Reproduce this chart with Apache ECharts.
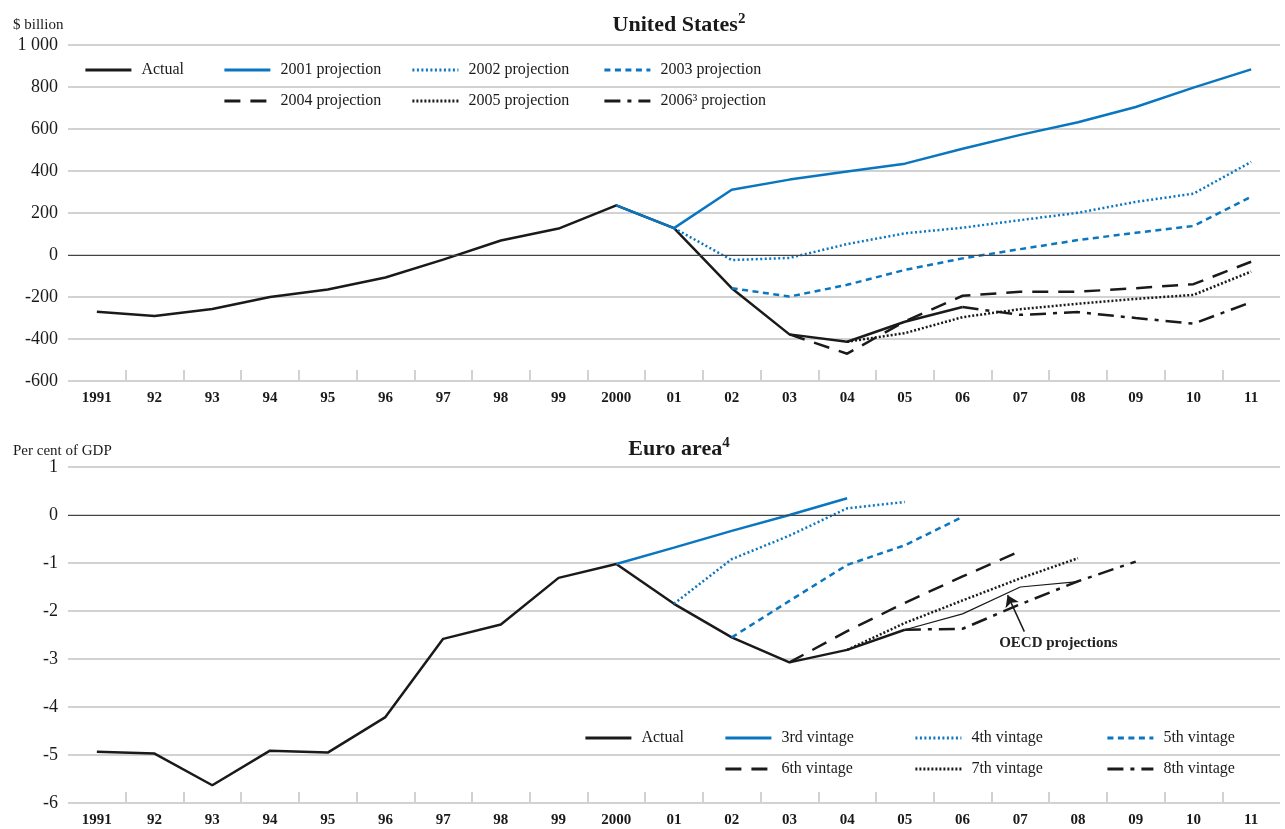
<!DOCTYPE html>
<html><head><meta charset="utf-8">
<script src="https://cdn.jsdelivr.net/npm/echarts@6/dist/echarts.min.js"></script>
<style>html,body{margin:0;padding:0;background:#fff}#c{width:1285px;height:829px}</style>
</head><body><div id="c"></div>
<script>
const categories = ['1991','92','93','94','95','96','97','98','99','2000','01','02','03','04','05','06','07','08','09','10','11'];
const N = null;
// United States, $ billion
const usActual = [-270,-290,-257,-200,-164,-107,-22,69,126,236,128,-158,-378,-413,-318,-248,N,N,N,N,N];
const us2001 = [N,N,N,N,N,N,N,N,N,236,128,311,359,398,435,506,572,632,705,797,884];
const us2002 = [N,N,N,N,N,N,N,N,N,N,128,-24,-14,52,103,130,166,201,253,292,443];
const us2003 = [N,N,N,N,N,N,N,N,N,N,N,-158,-198,-142,-71,-16,28,71,106,138,277];
const us2004 = [N,N,N,N,N,N,N,N,N,N,N,N,-378,-470,-316,-194,-175,-175,-158,-139,-32];
const us2005 = [N,N,N,N,N,N,N,N,N,N,N,N,N,-413,-372,-296,-258,-232,-209,-190,-79];
const us2006 = [N,N,N,N,N,N,N,N,N,N,N,N,N,N,N,-248,-285,-272,-300,-327,-225];
// Euro area, per cent of GDP
const euActual = [-4.93,-4.97,-5.63,-4.91,-4.95,-4.21,-2.58,-2.28,-1.31,-1.02,-1.85,-2.55,-3.07,-2.81,-2.39,N,N,N,N,N,N];
const euEstimate = [N,N,N,N,N,N,N,N,N,N,N,N,N,N,-2.39,-2.06,-1.50,-1.39,N,N,N];
const eu3 = [N,N,N,N,N,N,N,N,N,-1.02,-0.68,-0.33,0.0,0.35,N,N,N,N,N,N,N];
const eu4 = [N,N,N,N,N,N,N,N,N,N,-1.85,-0.92,-0.43,0.14,0.27,N,N,N,N,N,N];
const eu5 = [N,N,N,N,N,N,N,N,N,N,N,-2.55,-1.79,-1.04,-0.63,-0.04,N,N,N,N,N];
const eu6 = [N,N,N,N,N,N,N,N,N,N,N,N,-3.07,-2.42,-1.83,-1.28,-0.75,N,N,N,N];
const eu7 = [N,N,N,N,N,N,N,N,N,N,N,N,N,-2.81,-2.25,-1.78,-1.32,-0.90,N,N,N];
const eu8 = [N,N,N,N,N,N,N,N,N,N,N,N,N,N,-2.39,-2.37,-1.86,-1.38,-0.97,N,N];
// annotation (category index, value)
const annotArrowFrom = [16.07, -2.43];
const annotArrowTo = [15.78, -1.67];
const annotTextAt = [16.66, -2.67];

const F = 'Liberation Serif';
const BLUE = '#0a76c0';
const BLACK = '#1a1a1a';
const GRID = '#d2d2d2';
const halfTicks = Array.from({length: 43}, (_, i) => String(i));

function line(name, data, color, type, xi, yi, width) {
  return {
    name, type: 'line', data, xAxisIndex: xi, yAxisIndex: yi,
    symbol: 'none', connectNulls: false, silent: true,
    lineStyle: {color, width: width || 2.5, type: type || 'solid'},
    itemStyle: {color}
  };
}
const zeroLine = {silent: true, symbol: 'none', label: {show: false},
  lineStyle: {color: '#444', width: 1.2, type: 'solid'}, data: [{yAxis: 0}]};

function lg(name, left, top) {
  return {data: [name], left, top, itemWidth: 46, itemHeight: 14, padding: 0,
    selectedMode: false,
    itemStyle: {opacity: 0, borderWidth: 0},
    lineStyle: {width: 2.8},
    textStyle: {fontFamily: F, fontSize: 16, color: BLACK, padding: [0, 0, 0, 5]}};
}

const xCat = (gi) => ({
  type: 'category', gridIndex: gi, data: categories, boundaryGap: true, position: 'bottom',
  axisLine: {show: false}, axisTick: {show: false}, splitLine: {show: false},
  axisLabel: {fontFamily: F, fontSize: 15, fontWeight: 'bold', color: BLACK, margin: 10}
});
const xHelp = (gi) => ({
  type: 'category', gridIndex: gi, data: halfTicks, boundaryGap: false, position: 'bottom',
  axisLine: {show: false}, axisLabel: {show: false}, splitLine: {show: false},
  axisTick: {show: true, inside: true, length: 11,
    interval: (i) => i % 2 === 0 && i >= 2 && i <= 40,
    lineStyle: {color: GRID, width: 2}}
});
const yVal = (gi, min, max, interval, fmt) => ({
  type: 'value', gridIndex: gi, min, max, interval,
  axisLine: {show: false}, axisTick: {show: false},
  splitLine: {show: true, lineStyle: {color: GRID, width: 2}},
  axisLabel: {fontFamily: F, fontSize: 18, color: BLACK, margin: 10, formatter: fmt}
});

const chart = echarts.init(document.getElementById('c'));
chart.setOption({
  animation: false,
  backgroundColor: '#fff',
  title: [
    {text: '{a|United States}{b|2}', left: 674, top: 7, textAlign: 'center',
     textStyle: {rich: {a: {fontFamily: F, fontSize: 22, fontWeight: 'bold', color: BLACK, lineHeight: 26},
                        b: {fontFamily: F, fontSize: 15, color: BLACK, verticalAlign: 'top', lineHeight: 18}}}},
    {text: '{a|Euro area}{b|4}', left: 674, top: 431, textAlign: 'center',
     textStyle: {rich: {a: {fontFamily: F, fontSize: 22, fontWeight: 'bold', color: BLACK, lineHeight: 26},
                        b: {fontFamily: F, fontSize: 15, color: BLACK, verticalAlign: 'top', lineHeight: 18}}}},
    {text: '$ billion', left: 8, top: 13, textStyle: {fontFamily: F, fontSize: 15, fontWeight: 'normal', color: BLACK}},
    {text: 'Per cent of GDP', left: 8, top: 439, textStyle: {fontFamily: F, fontSize: 15, fontWeight: 'normal', color: BLACK}}
  ],
  legend: [
    lg('Actual', 84, 62), lg('2001 projection', 223, 62), lg('2002 projection', 411, 62), lg('2003 projection', 603, 62),
    lg('2004 projection', 223, 93), lg('2005 projection', 411, 93), lg('2006³ projection', 603, 93),
    lg('Actual', 584, 730), lg('3rd vintage', 724, 730), lg('4th vintage', 914, 730), lg('5th vintage', 1106, 730),
    lg('6th vintage', 724, 761), lg('7th vintage', 914, 761), lg('8th vintage', 1106, 761)
  ],
  grid: [
    {left: 68, right: 5, top: 45, height: 336},
    {left: 68, right: 5, top: 467, height: 336}
  ],
  xAxis: [xCat(0), xCat(1), xHelp(0), xHelp(1),
    {type: 'value', gridIndex: 1, min: -0.5, max: 20.5, show: false}],
  yAxis: [
    yVal(0, -600, 1000, 200, v => v === 1000 ? '1 000' : String(v)),
    yVal(1, -6, 1, 1, v => String(v))
  ],
  series: [
    Object.assign(line('Actual', usActual, BLACK, 'solid', 0, 0), {markLine: zeroLine}),
    line('2001 projection', us2001, BLUE, 'solid', 0, 0),
    line('2002 projection', us2002, BLUE, [2, 2.5], 0, 0),
    line('2003 projection', us2003, BLUE, [6, 4.5], 0, 0),
    line('2004 projection', us2004, BLACK, [16, 10], 0, 0),
    line('2005 projection', us2005, BLACK, [2, 2], 0, 0),
    line('2006³ projection', us2006, BLACK, [16, 7, 4, 7], 0, 0),
    Object.assign(line('Actual', euActual, BLACK, 'solid', 1, 1), {markLine: zeroLine}),
    line('OECD estimate', euEstimate, BLACK, 'solid', 1, 1, 1.2),
    line('3rd vintage', eu3, BLUE, 'solid', 1, 1),
    line('4th vintage', eu4, BLUE, [2, 2.5], 1, 1),
    line('5th vintage', eu5, BLUE, [6, 4.5], 1, 1),
    line('6th vintage', eu6, BLACK, [16, 10], 1, 1),
    line('7th vintage', eu7, BLACK, [2, 2], 1, 1),
    line('8th vintage', eu8, BLACK, [16, 7, 4, 7], 1, 1),
    {
      name: 'annotation', type: 'line', data: [], xAxisIndex: 4, yAxisIndex: 1, silent: true,
      itemStyle: {color: BLACK},
      markLine: {silent: true, symbol: ['none', 'arrow'], symbolSize: 11,
        label: {show: false}, lineStyle: {color: BLACK, width: 1.5, type: 'solid'},
        itemStyle: {color: BLACK, opacity: 1},
        data: [[
          {coord: annotArrowFrom, symbol: 'none'},
          {coord: annotArrowTo, symbol: 'arrow', symbolSize: 11, itemStyle: {color: BLACK, opacity: 1}}
        ]]},
      markPoint: {silent: true, symbol: 'circle', symbolSize: 0,
        label: {show: true, position: 'inside', formatter: 'OECD projections',
          fontFamily: F, fontSize: 15, fontWeight: 'bold', color: '#222'},
        data: [{coord: annotTextAt}]}
    }
  ]
});
</script></body></html>
